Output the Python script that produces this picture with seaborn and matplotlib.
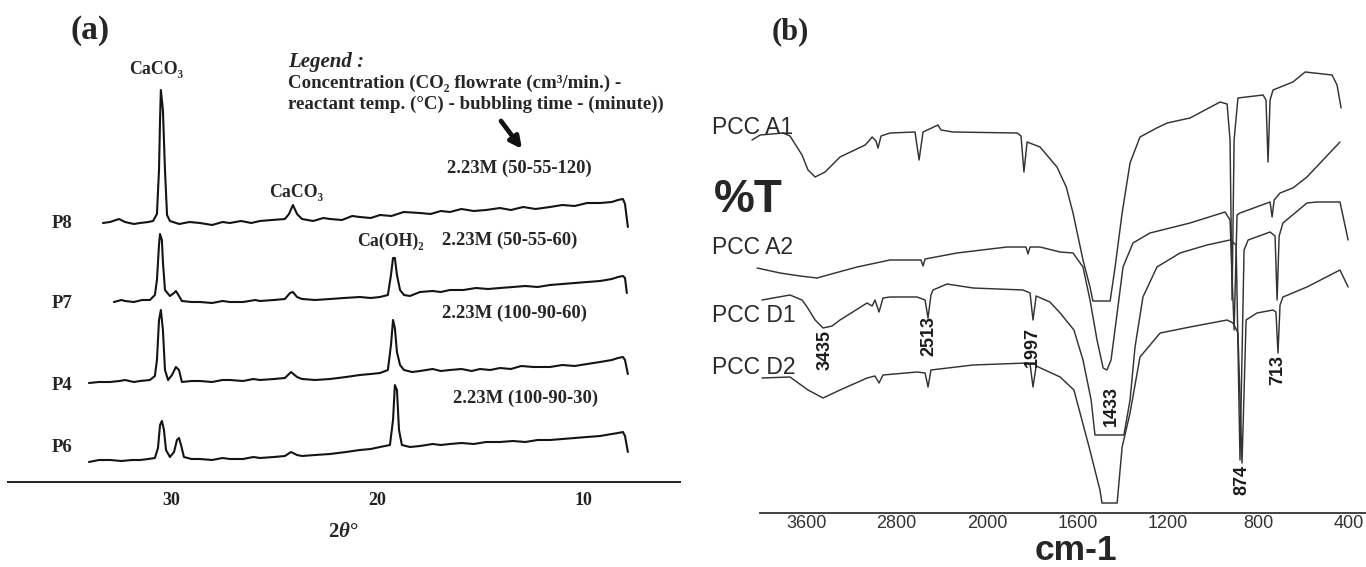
import numpy as np
import pandas as pd
import matplotlib
matplotlib.use("Agg")
import matplotlib.pyplot as plt
import seaborn as sns

# ---------------- data : panel (a) XRD (2theta, intensity a.u.) ----------------
P8 = [(33.30, 259), (32.96, 260), (32.52, 263), (32.23, 260), (31.80, 258), (31.50, 259), (31.10, 260),
      (30.87, 261), (30.68, 268), (30.58, 312), (30.53, 362), (30.49, 392), (30.39, 372), (30.29, 312),
      (30.19, 267), (30.05, 261), (29.60, 258), (29.10, 260), (28.59, 259), (28.00, 257), (27.50, 260),
      (27.14, 259), (26.60, 261), (26.10, 259), (25.68, 261), (25.10, 262), (24.47, 263), (24.27, 268),
      (24.08, 277), (23.88, 268), (23.64, 263), (23.10, 261), (22.60, 264), (22.28, 263), (21.70, 262),
      (21.20, 266), (20.83, 265), (20.30, 264), (19.85, 267), (19.30, 266), (18.70, 270), (17.91, 269),
      (17.40, 268), (16.90, 271), (16.46, 270), (15.90, 273), (15.30, 271), (14.70, 272), (14.03, 274),
      (13.50, 272), (12.90, 275), (12.30, 273), (11.60, 275), (11.00, 277), (10.40, 276), (9.80, 279),
      (9.17, 279), (8.60, 280), (8.30, 282), (8.06, 283), (7.96, 278), (7.82, 255)]
P7 = [(32.77, 180), (32.40, 182), (32.23, 181), (31.80, 180), (31.40, 182), (31.02, 182), (30.78, 187),
      (30.68, 202), (30.58, 237), (30.53, 248), (30.44, 242), (30.39, 220), (30.29, 192), (30.05, 186),
      (29.85, 189), (29.76, 191), (29.61, 186), (29.47, 181), (29.00, 180), (28.59, 180), (28.00, 179),
      (27.50, 181), (27.14, 180), (26.50, 180), (25.90, 182), (25.68, 181), (25.00, 182), (24.47, 183),
      (24.22, 189), (24.08, 190), (23.88, 185), (23.64, 183), (23.00, 182), (22.28, 183), (21.60, 184),
      (20.83, 185), (20.30, 184), (19.85, 185), (19.47, 187), (19.32, 207), (19.22, 224), (19.13, 224),
      (19.03, 207), (18.88, 192), (18.69, 187), (18.40, 186), (17.91, 190), (17.30, 191), (16.90, 190),
      (16.46, 192), (15.80, 192), (15.20, 194), (14.60, 193), (14.03, 194), (13.40, 195), (12.80, 196),
      (12.20, 195), (11.60, 197), (11.00, 198), (10.40, 199), (9.80, 200), (9.17, 201), (8.60, 203),
      (8.30, 205), (8.06, 206), (7.96, 204), (7.87, 189)]
P4 = [(33.98, 99), (33.50, 100), (32.96, 100), (32.50, 101), (32.23, 102), (31.80, 100), (31.50, 101),
      (31.02, 102), (30.78, 106), (30.68, 122), (30.58, 162), (30.49, 172), (30.39, 152), (30.29, 112),
      (30.14, 102), (29.95, 107), (29.76, 115), (29.61, 112), (29.47, 100), (29.00, 101), (28.59, 101),
      (28.00, 100), (27.50, 102), (27.14, 102), (26.50, 101), (26.00, 103), (25.68, 102), (25.00, 103),
      (24.47, 104), (24.17, 110), (23.88, 105), (23.64, 103), (23.00, 102), (22.28, 103), (21.50, 105),
      (20.83, 107), (20.30, 108), (19.85, 109), (19.47, 112), (19.32, 137), (19.22, 162), (19.13, 154),
      (19.03, 130), (18.88, 117), (18.69, 112), (18.30, 110), (17.91, 111), (17.30, 113), (16.90, 111),
      (16.46, 112), (15.90, 113), (15.40, 111), (15.00, 113), (14.50, 112), (14.03, 114), (13.50, 113),
      (13.00, 116), (12.40, 115), (11.60, 115), (11.00, 117), (10.40, 116), (9.80, 118), (9.17, 120),
      (8.60, 122), (8.30, 124), (8.06, 125), (7.96, 122), (7.82, 108)]
P6 = [(33.98, 20), (33.50, 22), (32.96, 22), (32.40, 21), (31.90, 22), (31.50, 22), (31.10, 23),
      (30.78, 24), (30.63, 34), (30.53, 57), (30.44, 61), (30.34, 52), (30.24, 32), (30.05, 25),
      (29.85, 30), (29.71, 42), (29.61, 44), (29.51, 37), (29.37, 25), (29.00, 23), (28.59, 23),
      (28.00, 22), (27.50, 24), (27.14, 23), (26.50, 23), (26.00, 25), (25.68, 24), (25.00, 25),
      (24.47, 26), (24.17, 30), (23.88, 27), (23.64, 26), (23.00, 27), (22.28, 28), (21.50, 30),
      (20.83, 32), (20.30, 33), (19.85, 35), (19.37, 37), (19.22, 62), (19.13, 97), (19.03, 92),
      (18.93, 52), (18.79, 37), (18.40, 35), (17.91, 36), (17.30, 38), (16.90, 37), (16.46, 38),
      (15.90, 39), (15.30, 38), (14.70, 40), (14.03, 40), (13.40, 41), (12.80, 40), (12.20, 42),
      (11.60, 42), (11.00, 43), (10.40, 44), (9.80, 45), (9.17, 46), (8.60, 48), (8.30, 49),
      (8.06, 50), (7.96, 46), (7.82, 30)]
XRD_SAMPLES = ["P8", "P7", "P4", "P6"]
XRD_TICKS = [30, 25, 20, 15, 10]
XRD_TICKLABELS = ["30", "", "20", "", "10"]
XRD_CONDITIONS = ["2.23M (50-55-120)", "2.23M (50-55-60)", "2.23M (100-90-60)", "2.23M (100-90-30)"]

# ---------------- data : panel (b) FTIR (wavenumber cm-1, %T a.u.) ----------------
A1 = [(4078, 373), (4006, 378), (3804, 380), (3742, 377), (3636, 358), (3583, 343), (3520, 336),
      (3432, 341), (3300, 356), (3078, 368), (3061, 370), (3016, 376), (2982, 372), (2964, 365),
      (2937, 377), (2858, 380), (2637, 381), (2601, 353), (2566, 381), (2434, 388), (2407, 383),
      (2300, 381), (1867, 380), (1850, 377), (1837, 341), (1823, 371), (1766, 366), (1691, 346),
      (1650, 326), (1620, 300), (1576, 253), (1545, 226), (1532, 212), (1456, 212), (1434, 246),
      (1403, 300), (1368, 350), (1324, 376), (1250, 385), (1204, 390), (1103, 395), (970, 411),
      (939, 409), (926, 373), (917, 213), (908, 373), (891, 415), (780, 418), (767, 413), (758, 351),
      (749, 413), (736, 423), (648, 431), (594, 441), (475, 438), (453, 428), (435, 405)]
A2 = [(4033, 245), (3830, 240), (3653, 237), (3503, 235), (3343, 240), (3149, 246), (2858, 253),
      (2584, 253), (2566, 247), (2548, 254), (2266, 260), (1912, 266), (1828, 266), (1819, 259),
      (1810, 266), (1766, 266), (1677, 261), (1620, 260), (1576, 246), (1545, 213), (1514, 173),
      (1487, 145), (1470, 143), (1452, 153), (1425, 200), (1399, 246), (1355, 270), (1280, 280),
      (1103, 290), (948, 301), (926, 293), (908, 183), (895, 298), (882, 300), (749, 311), (740, 296),
      (731, 313), (705, 320), (648, 325), (586, 336), (440, 371)]
D1 = [(3990, 213), (3742, 218), (3636, 213), (3591, 206), (3520, 193), (3450, 185), (3370, 187),
      (3300, 193), (3061, 210), (3016, 207), (2991, 213), (2955, 201), (2920, 215), (2858, 216),
      (2619, 216), (2548, 213), (2522, 195), (2496, 218), (2478, 223), (2354, 229), (2124, 225),
      (1841, 223), (1810, 220), (1797, 193), (1783, 217), (1722, 211), (1677, 200), (1616, 183),
      (1576, 153), (1540, 113), (1523, 78), (1395, 78), (1368, 113), (1346, 166), (1311, 216),
      (1249, 246), (1147, 260), (1028, 268), (926, 273), (899, 268), (882, 53), (864, 263), (846, 273),
      (749, 281), (727, 277), (718, 213), (709, 277), (692, 290), (586, 310), (541, 311), (440, 311),
      (404, 273)]
D2 = [(3990, 135), (3742, 136), (3583, 123), (3450, 115), (3300, 123), (3061, 135), (2991, 137),
      (2955, 130), (2920, 138), (2619, 141), (2548, 140), (2522, 126), (2496, 143), (2124, 148),
      (1823, 150), (1810, 149), (1797, 126), (1783, 147), (1677, 136), (1616, 123), (1549, 66),
      (1501, 23), (1492, 10), (1425, 10), (1403, 66), (1368, 100), (1324, 156), (1235, 180),
      (1103, 186), (939, 193), (913, 190), (891, 180), (873, 50), (855, 193), (807, 200), (736, 203),
      (723, 201), (714, 160), (705, 208), (692, 216), (586, 226), (440, 243), (404, 226)]
IR_SAMPLES = ["PCC A1", "PCC A2", "PCC D1", "PCC D2"]
IR_TICKS = [3600, 2800, 2000, 1600, 1200, 800, 400]
IR_PEAK_LABELS = ["3435", "2513", "1997", "1433", "874", "713"]
IR_PEAK_POS = [(3432, 163), (2513, 177), (1801, 166), (1452, 107), (873, 33), (714, 143)]

# ---------------- figure ----------------
sns.set_theme(style="white")
plt.rcParams["font.family"] = ["Liberation Serif", "DejaVu Serif"]
plt.rcParams["mathtext.fontset"] = "custom"
plt.rcParams["mathtext.rm"] = "Liberation Serif:bold"
plt.rcParams["mathtext.it"] = "Liberation Serif:bold:italic"
SERIF = ["Liberation Serif", "DejaVu Serif"]
SANS = ["Liberation Sans", "DejaVu Sans"]

W, H = 1366, 567
fig = plt.figure(figsize=(W / 100, H / 100), dpi=100)
fig.patch.set_facecolor("white")


def fx(x):
    return x / W


def fy(y):
    return 1 - y / H


# ----- panel (a)
axA = fig.add_axes([fx(8), fy(482), fx(680) - fx(8), fy(60) - fy(482)])
xrd = pd.concat([pd.DataFrame(d, columns=["two_theta", "intensity"]).assign(sample=s)
                 for s, d in zip(XRD_SAMPLES, [P8, P7, P4, P6])], ignore_index=True)
sns.lineplot(data=xrd, x="two_theta", y="intensity", units="sample", estimator=None, sort=False,
             color="#141414", lw=1.5, ax=axA, legend=False)
axA.set_xlim(37.91, 5.29)
axA.set_ylim(0, 422)
axA.set_facecolor("none")
for side in ["top", "left", "right"]:
    axA.spines[side].set_visible(False)
axA.spines["bottom"].set_color("#222")
axA.spines["bottom"].set_linewidth(1.4)
axA.set_yticks([])
axA.set_xticks(XRD_TICKS)
axA.set_xticklabels(XRD_TICKLABELS, fontfamily=SERIF, fontweight="bold", fontsize=13)
axA.tick_params(axis="x", direction="in", length=11, width=1.2, pad=7, colors="#222")
axA.set_xlabel("")
axA.set_ylabel("")

fig.text(fx(90), fy(30), "(a)", family=SERIF, weight="bold", fontsize=24, ha="center", va="center")
fig.text(fx(156), fy(70), "CaCO₃", family=SERIF, weight="bold", fontsize=12.8, ha="center", va="center")
fig.text(fx(288), fy(62), "Legend :", family=SERIF, weight="bold", style="italic", fontsize=15,
         ha="left", va="center")
fig.text(fx(288), fy(83), "Concentration (CO₂ flowrate (cm³/min.) -", family=SERIF, weight="bold",
         fontsize=13.6, ha="left", va="center")
fig.text(fx(288), fy(104), "reactant temp. (°C) - bubbling time - (minute))", family=SERIF,
         weight="bold", fontsize=13.6, ha="left", va="center")
axA.annotate("", xy=(fx(522), fy(149)), xytext=(fx(501), fy(121)), xycoords="figure fraction",
             textcoords="figure fraction", annotation_clip=False,
             arrowprops=dict(arrowstyle="-|>", lw=3.4, color="#111", mutation_scale=17, shrinkA=0, shrinkB=0))
cond_pos = [(519, 168), (510, 240), (515, 313), (526, 398)]
for t, (x, y) in zip(XRD_CONDITIONS, cond_pos):
    fig.text(fx(x), fy(y), t, family=SERIF, weight="bold", fontsize=13.4, ha="center", va="center")
fig.text(fx(296), fy(193), "CaCO₃", family=SERIF, weight="bold", fontsize=12.8, ha="center", va="center")
fig.text(fx(390), fy(241), "Ca(OH)₂", family=SERIF, weight="bold", fontsize=12.8, ha="center", va="center")
for s, y in zip(XRD_SAMPLES, [223, 303, 385, 447]):
    fig.text(fx(62), fy(y), s, family=SERIF, weight="bold", fontsize=13.5, ha="center", va="center")
fig.text(fx(343), fy(532), "$2\\theta$°", family=SERIF, weight="bold", fontsize=15,
         ha="center", va="center")


# ----- panel (b)
def ir_fwd(w):
    w = np.asarray(w, dtype=float)
    return np.where(w > 2000, 2000 + (w - 2000) / 2, w)


def ir_inv(u):
    u = np.asarray(u, dtype=float)
    return np.where(u > 2000, 2000 + (u - 2000) * 2, u)


axB = fig.add_axes([fx(745), fy(513), fx(1366) - fx(745), fy(60) - fy(513)])
ir = pd.concat([pd.DataFrame(d, columns=["wavenumber", "T"]).assign(sample=s)
                for s, d in zip(IR_SAMPLES, [A1, A2, D1, D2])], ignore_index=True)
sns.lineplot(data=ir, x="wavenumber", y="T", units="sample", estimator=None, sort=False,
             color="#333333", lw=1.05, ax=axB, legend=False)
axB.set_xscale("function", functions=(ir_fwd, ir_inv))
axB.set_xlim(4140, 325)
axB.set_ylim(0, 453)
axB.set_facecolor("none")
for side in ["top", "left", "right"]:
    axB.spines[side].set_visible(False)
axB.spines["bottom"].set_bounds(325, 4006)
axB.spines["bottom"].set_color("#333")
axB.spines["bottom"].set_linewidth(1.3)
axB.set_yticks([])
axB.set_xticks(IR_TICKS)
axB.set_xticklabels([str(t) for t in IR_TICKS], fontfamily=SANS, fontsize=13, color="#333")
axB.xaxis.set_minor_locator(matplotlib.ticker.NullLocator())
axB.tick_params(axis="x", direction="in", length=10, width=1.3, pad=1.5, colors="#333")
axB.set_xlabel("")
axB.set_ylabel("")

for t, (w, v) in zip(IR_PEAK_LABELS, IR_PEAK_POS):
    axB.text(w, v, t, family=SANS, weight="bold", fontsize=13, rotation=90,
             ha="center", va="center", color="#1a1a1a")

fig.text(fx(790), fy(32), "(b)", family=SERIF, weight="bold", fontsize=22, ha="center", va="center")
for s, y in zip(IR_SAMPLES, [127, 248, 315, 367]):
    fig.text(fx(712), fy(y), s, family=SANS, fontsize=16.5, ha="left", va="center", color="#2a2a2a")
fig.text(fx(714), fy(200), "%T", family=SANS, weight="bold", fontsize=33, ha="left", va="center")
fig.text(fx(1076), fy(567), "cm-1", family=SANS, weight="bold", fontsize=25.5, ha="center", va="bottom")

fig.savefig("out.png", dpi=100, facecolor="white")
